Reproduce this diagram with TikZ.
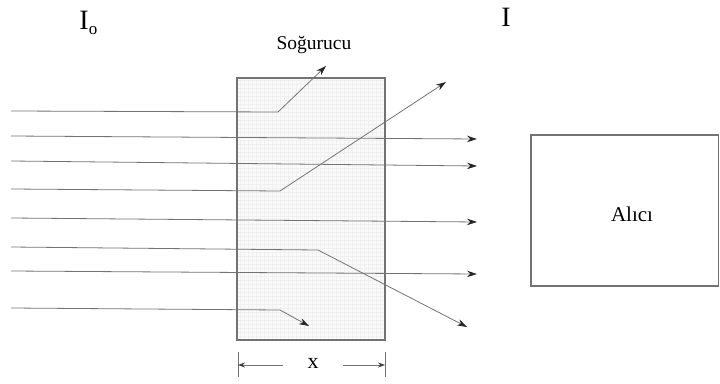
\documentclass[tikz,border=0pt]{standalone}
\usepackage{fontspec}
\setmainfont{Liberation Serif}
\usetikzlibrary{arrows.meta}
\begin{document}
\begin{tikzpicture}[x=1pt,y=-1pt,
  ray/.style={draw=black!55, line width=0.8pt},
  rayarr/.style={ray, -{Stealth[length=10pt,width=6.5pt,black!85]}},
  dimarr/.style={draw=black!55, line width=0.8pt, -{Stealth[length=7pt,width=5pt,black!75]}},
  boxline/.style={draw=black!55, line width=1.4pt},
  lbl/.style={inner sep=0pt, font=\fontsize{19.5}{19.5}\selectfont}]
\useasboundingbox (0,0) rectangle (720,383);
% absorber
\fill[black!2] (237,78) rectangle (385,340);
\draw[black!6, line width=0.3pt, step=4pt] (237,78) grid (385,340);
\draw[boxline] (237,78) rectangle (385,340);
\node[lbl] (sog) at (314,45) {Soğurucu};
% receiver
\draw[boxline] (531,135) rectangle (718.5,286);
\node[lbl, font=\fontsize{21}{21}\selectfont] (alici) at (632,214) {Alıcı};
% intensity labels
\node[inner sep=0pt, font=\fontsize{28}{28}\selectfont] (Io) at (84,20) {I};
\node[inner sep=0pt, font=\fontsize{17}{17}\selectfont] (Iosub) at (93,31) {o};
\node[inner sep=0pt, font=\fontsize{28}{28}\selectfont] (I) at (506,17) {I};
% ray coordinates
\coordinate (s1) at (11,111); \coordinate (b1) at (278,112); \coordinate (e1) at (326,66);
\coordinate (s2) at (11,136); \coordinate (e2) at (477,139);
\coordinate (s3) at (11,161); \coordinate (e3) at (477,166);
\coordinate (s4) at (11,189); \coordinate (b4) at (280,191); \coordinate (e4) at (446,82);
\coordinate (s5) at (11,218); \coordinate (e5) at (477,222);
\coordinate (s6) at (11,247); \coordinate (b6) at (318,250); \coordinate (e6) at (467,327);
\coordinate (s7) at (11,271); \coordinate (e7) at (477,274);
\coordinate (s8) at (11,308); \coordinate (b8) at (280,310); \coordinate (e8) at (309,326);
\draw[rayarr] (s1) -- (b1) -- (e1);
\draw[rayarr] (s2) -- (e2);
\draw[rayarr] (s3) -- (e3);
\draw[rayarr] (s4) -- (b4) -- (e4);
\draw[rayarr] (s5) -- (e5);
\draw[rayarr] (s6) -- (b6) -- (e6);
\draw[rayarr] (s7) -- (e7);
\draw[rayarr] (s8) -- (b8) -- (e8);
% dimension
\coordinate (t1a) at (238,352); \coordinate (t1b) at (238,377);
\coordinate (t2a) at (385,352); \coordinate (t2b) at (385,377);
\draw[draw=black!55, line width=0.8pt] (t1a) -- (t1b);
\draw[draw=black!55, line width=0.8pt] (t2a) -- (t2b);
\node[lbl, font=\fontsize{22}{22}\selectfont] (x) at (313,363) {x};
\coordinate (d1) at (283,365); \coordinate (d2) at (343,365);
\draw[dimarr] (d1) -- (t1a |- d1);
\draw[dimarr] (d2) -- (t2a |- d2);
\end{tikzpicture}
\end{document}
